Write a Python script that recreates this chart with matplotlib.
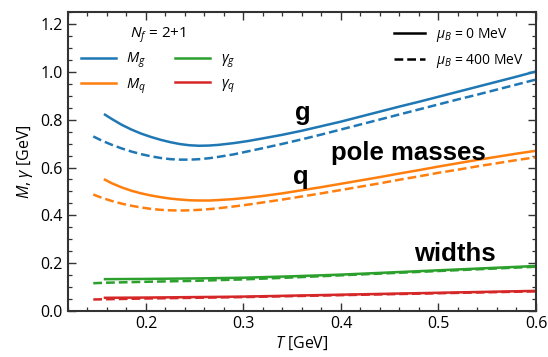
import matplotlib
matplotlib.use("Agg")
import matplotlib.pyplot as plt
from matplotlib.lines import Line2D
from matplotlib.ticker import MultipleLocator

plt.rcParams['font.family'] = ['Open Sans', 'DejaVu Sans']
plt.rcParams['mathtext.fontset'] = 'custom'
plt.rcParams['mathtext.rm'] = 'Open Sans'
plt.rcParams['mathtext.it'] = 'Open Sans:italic'

# ---- data ----
T_mg0 = [0.158, 0.165, 0.175, 0.185, 0.195, 0.205, 0.215, 0.225, 0.235, 0.245, 0.255, 0.265, 0.275,
         0.29, 0.305, 0.32, 0.34, 0.36, 0.38, 0.40, 0.42, 0.44, 0.46, 0.48, 0.50, 0.52, 0.54, 0.56, 0.58, 0.60]
Mg0   = [0.821, 0.803, 0.779, 0.759, 0.742, 0.728, 0.716, 0.706, 0.698, 0.693, 0.691, 0.692, 0.695,
         0.702, 0.711, 0.722, 0.737, 0.754, 0.773, 0.792, 0.813, 0.834, 0.855, 0.875, 0.896, 0.917, 0.938, 0.959, 0.980, 1.002]
T_mg4 = [0.146, 0.155, 0.165, 0.175, 0.185, 0.195, 0.205, 0.215, 0.225, 0.235, 0.245, 0.255, 0.265, 0.275,
         0.29, 0.305, 0.32, 0.34, 0.36, 0.38, 0.40, 0.42, 0.44, 0.46, 0.48, 0.50, 0.52, 0.54, 0.56, 0.58, 0.60]
Mg4   = [0.73, 0.712, 0.695, 0.680, 0.667, 0.656, 0.647, 0.640, 0.635, 0.633, 0.633, 0.635, 0.639, 0.645,
         0.655, 0.668, 0.681, 0.699, 0.718, 0.738, 0.759, 0.780, 0.801, 0.822, 0.843, 0.864, 0.885, 0.905, 0.926, 0.947, 0.968]

T_mq0 = [0.158, 0.165, 0.175, 0.185, 0.195, 0.205, 0.215, 0.225, 0.235, 0.245, 0.255, 0.265, 0.275,
         0.29, 0.305, 0.32, 0.34, 0.36, 0.38, 0.40, 0.42, 0.44, 0.46, 0.48, 0.50, 0.52, 0.54, 0.56, 0.58, 0.60]
Mq0   = [0.549, 0.534, 0.517, 0.503, 0.492, 0.483, 0.476, 0.470, 0.466, 0.463, 0.462, 0.462, 0.464,
         0.468, 0.474, 0.481, 0.492, 0.505, 0.518, 0.532, 0.546, 0.560, 0.575, 0.589, 0.604, 0.618, 0.632, 0.645, 0.658, 0.670]
T_mq4 = [0.146, 0.155, 0.165, 0.175, 0.185, 0.195, 0.205, 0.215, 0.225, 0.235, 0.245, 0.255, 0.265, 0.275,
         0.29, 0.305, 0.32, 0.34, 0.36, 0.38, 0.40, 0.42, 0.44, 0.46, 0.48, 0.50, 0.52, 0.54, 0.56, 0.58, 0.60]
Mq4   = [0.487, 0.473, 0.460, 0.449, 0.440, 0.433, 0.427, 0.423, 0.421, 0.420, 0.421, 0.423, 0.426, 0.430,
         0.437, 0.445, 0.454, 0.466, 0.479, 0.492, 0.506, 0.520, 0.534, 0.549, 0.563, 0.578, 0.591, 0.605, 0.618, 0.631, 0.643]

T_gg0 = [0.158, 0.20, 0.25, 0.30, 0.35, 0.40, 0.45, 0.50, 0.55, 0.60]
Gg0   = [0.133, 0.134, 0.136, 0.139, 0.145, 0.152, 0.161, 0.170, 0.179, 0.188]
T_gg4 = [0.146, 0.158, 0.20, 0.25, 0.30, 0.35, 0.40, 0.45, 0.50, 0.55, 0.60]
Gg4   = [0.116, 0.118, 0.122, 0.126, 0.132, 0.140, 0.149, 0.158, 0.167, 0.176, 0.185]

T_gq0 = [0.158, 0.20, 0.25, 0.30, 0.35, 0.40, 0.45, 0.50, 0.55, 0.60]
Gq0   = [0.055, 0.056, 0.058, 0.060, 0.064, 0.068, 0.072, 0.076, 0.080, 0.084]
T_gq4 = [0.146, 0.20, 0.25, 0.30, 0.35, 0.40, 0.45, 0.50, 0.55, 0.60]
Gq4   = [0.048, 0.052, 0.055, 0.058, 0.062, 0.066, 0.070, 0.074, 0.078, 0.082]

C_B, C_O, C_G, C_R = '#1f77b4', '#ff7f0e', '#2ca02c', '#d62728'

fig = plt.figure(figsize=(5.48, 3.57), dpi=100)
ax = fig.add_axes([0.124, 0.129, 0.854, 0.837])

lw = 1.8
dash = (3.5, 1.6)
ax.plot(T_mg0, Mg0, color=C_B, lw=lw)
ax.plot(T_mg4, Mg4, color=C_B, lw=lw, dashes=dash)
ax.plot(T_mq0, Mq0, color=C_O, lw=lw)
ax.plot(T_mq4, Mq4, color=C_O, lw=lw, dashes=dash)
ax.plot(T_gg0, Gg0, color=C_G, lw=lw)
ax.plot(T_gg4, Gg4, color=C_G, lw=lw, dashes=dash)
ax.plot(T_gq0, Gq0, color=C_R, lw=lw)
ax.plot(T_gq4, Gq4, color=C_R, lw=lw, dashes=dash)

ax.set_xlim(0.12, 0.6)
ax.set_ylim(0.0, 1.25)
ax.xaxis.set_major_locator(MultipleLocator(0.1))
ax.xaxis.set_minor_locator(MultipleLocator(0.02))
ax.yaxis.set_major_locator(MultipleLocator(0.2))
ax.yaxis.set_minor_locator(MultipleLocator(0.05))
ax.tick_params(which='both', direction='in', top=True, right=True, colors='#333333',
               labelcolor='black')
ax.tick_params(which='major', length=6, width=1.0, labelsize=11.5)
ax.tick_params(which='minor', length=3, width=0.9)
for s in ax.spines.values():
    s.set_linewidth(1.5)
    s.set_color('#333333')
ax.set_xlabel(r'$T$ [GeV]', fontsize=11.5, labelpad=2)
ax.set_ylabel(r'$M$, $\gamma$ [GeV]', fontsize=11.5, labelpad=4)

# legends
h1 = [Line2D([], [], color=C_B, lw=lw), Line2D([], [], color=C_O, lw=lw),
      Line2D([], [], color=C_G, lw=lw), Line2D([], [], color=C_R, lw=lw)]
l1 = [r'$M_g$', r'$M_q$', r'$\gamma_g$', r'$\gamma_q$']
leg1 = ax.legend(h1, l1, ncol=2, loc='upper left', frameon=False, fontsize=10.5,
                 title=r'$N_f$ = 2+1', title_fontsize=11, handlelength=2.4,
                 handletextpad=0.7, columnspacing=2.0, labelspacing=0.4,
                 bbox_to_anchor=(0.0, 1.0))
ax.add_artist(leg1)
h2 = [Line2D([], [], color='black', lw=lw), Line2D([], [], color='black', lw=lw, dashes=dash)]
l2 = [r'$\mu_B$ = 0 MeV', r'$\mu_B$ = 400 MeV']
ax.legend(h2, l2, loc='upper right', frameon=False, fontsize=10, handlelength=2.2,
          labelspacing=0.55, bbox_to_anchor=(1.0, 0.995))

tf = dict(family=['Liberation Sans', 'DejaVu Sans'], fontweight='bold', fontsize=18.5)
ax.text(0.361, 0.80, 'g', ha='center', va='baseline', **tf)
ax.text(0.469, 0.633, 'pole masses', ha='center', va='baseline', **tf)
ax.text(0.359, 0.532, 'q', ha='center', va='baseline', **tf)
ax.text(0.517, 0.211, 'widths', ha='center', va='baseline', **tf)

fig.savefig('out.png', dpi=100)
